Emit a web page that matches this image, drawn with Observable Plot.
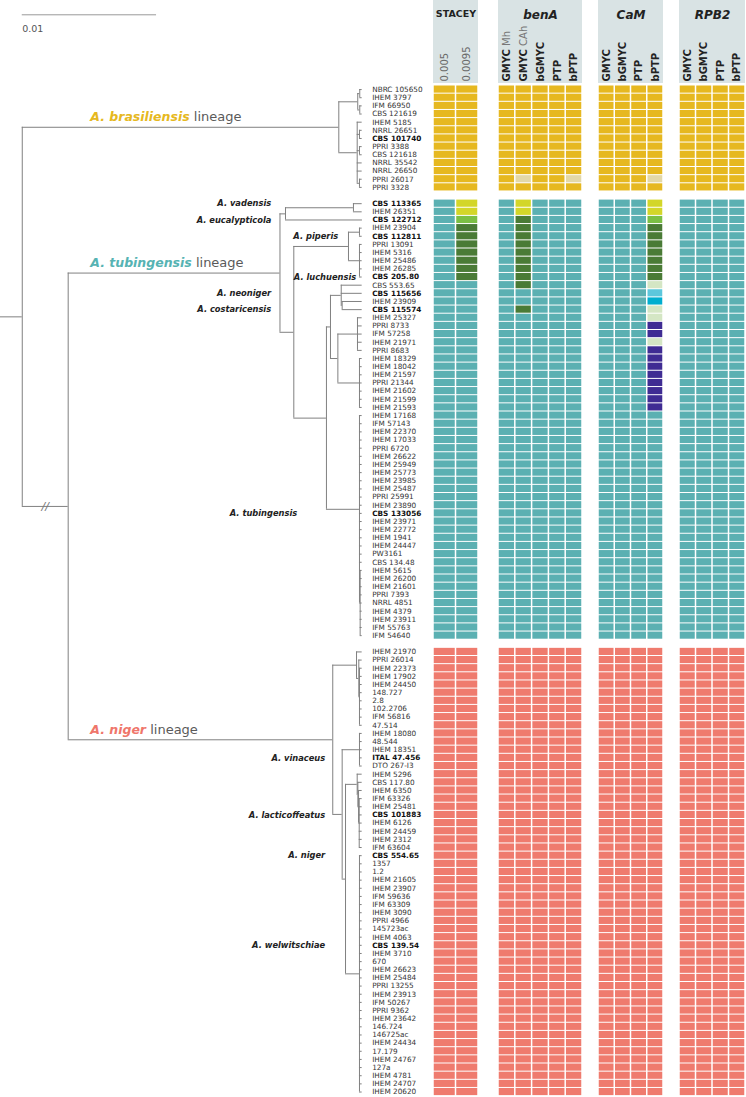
<!DOCTYPE html>
<html><head><meta charset="utf-8">
<script src="https://cdn.jsdelivr.net/npm/d3@7"></script>
<script src="https://cdn.jsdelivr.net/npm/@observablehq/plot@0.6"></script>
<style>
body{margin:0;background:#fff;}
#chart{position:relative;width:746px;height:1097px;overflow:hidden;font-family:"DejaVu Sans",sans-serif;}
.panel{position:absolute;top:0;}
.hdr{position:absolute;top:0;height:83px;background:#d9e3e4;}
</style></head><body><div id="chart"></div>
<script>
// ---------------- DATA ----------------
const brasiliensisStrains = ["NBRC 105650","IHEM 3797","IFM 66950","CBS 121619","IHEM 5185","NRRL 26651","CBS 101740","PPRI 3388","CBS 121618","NRRL 35542","NRRL 26650","PPRI 26017","PPRI 3328"];
const tubingensisStrains = ["CBS 113365","IHEM 26351","CBS 122712","IHEM 23904","CBS 112811","PPRI 13091","IHEM 5316","IHEM 25486","IHEM 26285","CBS 205.80","CBS 553.65","CBS 115656","IHEM 23909","CBS 115574","IHEM 25327","PPRI 8733","IFM 57258","IHEM 21971","PPRI 8683","IHEM 18329","IHEM 18042","IHEM 21597","PPRI 21344","IHEM 21602","IHEM 21599","IHEM 21593","IHEM 17168","IFM 57143","IHEM 22370","IHEM 17033","PPRI 6720","IHEM 26622","IHEM 25949","IHEM 25773","IHEM 23985","IHEM 25487","PPRI 25991","IHEM 23890","CBS 133056","IHEM 23971","IHEM 22772","IHEM 1941","IHEM 24447","PW3161","CBS 134.48","IHEM 5615","IHEM 26200","IHEM 21601","PPRI 7393","NRRL 4851","IHEM 4379","IHEM 23911","IFM 55763","IFM 54640"];
const nigerStrains = ["IHEM 21970","PPRI 26014","IHEM 22373","IHEM 17902","IHEM 24450","148.727","2.8","102.2706","IFM 56816","47.514","IHEM 18080","48.544","IHEM 18351","ITAL 47.456","DTO 267-I3","IHEM 5296","CBS 117.80","IHEM 6350","IFM 63326","IHEM 25481","CBS 101883","IHEM 6126","IHEM 24459","IHEM 2312","IFM 63604","CBS 554.65","1357","1.2","IHEM 21605","IHEM 23907","IFM 59636","IFM 63309","IHEM 3090","PPRI 4966","145723ac","IHEM 4063","CBS 139.54","IHEM 3710","670","IHEM 26623","IHEM 25484","PPRI 13255","IHEM 23913","IFM 50267","PPRI 9362","IHEM 23642","146.724","146725ac","IHEM 24434","17.179","IHEM 24767","127a","IHEM 4781","IHEM 24707","IHEM 20620"];
const typeStrains = ["CBS 101740","CBS 113365","CBS 122712","CBS 112811","CBS 205.80","CBS 115656","CBS 115574","CBS 133056","ITAL 47.456","CBS 101883","CBS 554.65","CBS 139.54"];

const lineageNames = ["A. brasiliensis","A. tubingensis","A. niger"];
const lineageClusters = ["brasiliensis","tubingensis","niger"];
const lineageColors = ["#e6b820","#56b3b3","#ef766b"];

const cladeLabelNames = ["A. vadensis","A. eucalypticola","A. piperis","A. luchuensis","A. neoniger","A. costaricensis","A. tubingensis","A. vinaceus","A. lacticoffeatus","A. niger","A. welwitschiae"];
const cladeLabelStrains = ["CBS 113365","CBS 122712","CBS 112811","CBS 205.80","CBS 115656","CBS 115574","CBS 133056","ITAL 47.456","CBS 101883","CBS 554.65","CBS 139.54"];

// Phylogeny (Newick, branch lengths in units of 1e-4 substitutions/site; leaves in row order)
const lengthUnit = 1e-4;
const brasiliensisNewick = "(((:1.8,:1.8):1.5,(:1.8,:1.8):1.5):14.1,(:3.7,(:2,:2):1.7,(:2,:2):1.7,:3.7,:3.7,(:2,:2):1.7):13.7):235.7";
const tubingensisNewick = "(((:6.5,:6.5):50.6,:57.3):4.1,(((:2,:2):8.2,(:2,:2,:2,:2,:2):8.2):40.7,"
  + "(((:15.6,:15.6,(:14.9,:14.9):0.7):8,((:3.5,:3.5,:3.5,:3.5,:3.5):14.6,(:2,:2,:2,:2,:2,:2,:2):16.1):5.5):3,"
  + "(:2,:2,:2,:2,:2,:2,:2,:2,:2,:2,:2,:2,:2,:2,:2,:2,:2,:2,:2,(:1.5,:1.5,:1.5,:1.5,:1.5,:1.5,:1.5,:1.5,:1.5):0.5):24.6):24.3):10.3):157.7";
const nigerNewick = "((:4.2,(:2.5,(:2,:2,:2,:2,:2,:2,:2,:2):0.5):1.7):17.7,((:2,:2,:2,:2,:2):12.9,"
  + "((:3.7,(:3.2,(:2.7,(:2.2,:2.2,:2.2,:2.2,:2.2,:2.2,:2.2):0.5):0.5):0.5):8.7,"
  + "(:2,:2,:2,:2,:2,:2,:2,:2,:2,:2,:2,:2,:2,:2,:2,:2,:2,:2,:2,:2,:2,:2,:2,:2,:2,:2,:2,:2,:2,:2):10.4):2.5):7):197";
const lineageSplitLength = 34.2;
const rootStemLength = 16.2;
const scaleBarLength = 0.01;

// Species delimitation panels
const groupTitles = ["STACEY","benA","CaM","RPB2"];
const staceyColumns = ["0.005","0.0095"];
const benAColumns = ["GMYC Mh","GMYC CAh","bGMYC","PTP","bPTP"];
const camColumns = ["GMYC","bGMYC","PTP","bPTP"];
const rpb2Columns = ["GMYC","bGMYC","PTP","bPTP"];

const clusterNames = ["brasiliensis","brasiliensis-2","tubingensis","vadensis","eucalypticola","piperis","tubingensis-2","tubingensis-3","tubingensis-4","tubingensis-5","niger"];
const clusterColors = ["#e6b820","#e3d8a8","#5bb0b2","#d3d629","#7bbf44","#4a7b36","#d4e6c4","#5cc7dc","#00aecf","#3f2c93","#ef7b6e"];

const stacey0095Clusters = [["CBS 113365","vadensis"],["IHEM 26351","vadensis"],["CBS 122712","eucalypticola"],["IHEM 23904","piperis"],["CBS 112811","piperis"],["PPRI 13091","piperis"],["IHEM 5316","piperis"],["IHEM 25486","piperis"],["IHEM 26285","piperis"],["CBS 205.80","piperis"]];
const benAGmycCAhClusters = [["PPRI 26017","brasiliensis-2"],["CBS 113365","vadensis"],["IHEM 26351","vadensis"],["CBS 122712","piperis"],["IHEM 23904","piperis"],["CBS 112811","piperis"],["PPRI 13091","piperis"],["IHEM 5316","piperis"],["IHEM 25486","piperis"],["IHEM 26285","piperis"],["CBS 205.80","piperis"],["CBS 553.65","piperis"],["CBS 115574","piperis"]];
const benABptpClusters = [["PPRI 26017","brasiliensis-2"]];
const camBptpClusters = [["PPRI 26017","brasiliensis-2"],["CBS 113365","vadensis"],["IHEM 26351","vadensis"],["CBS 122712","eucalypticola"],["IHEM 23904","piperis"],["CBS 112811","piperis"],["PPRI 13091","piperis"],["IHEM 5316","piperis"],["IHEM 25486","piperis"],["IHEM 26285","piperis"],["CBS 205.80","piperis"],["CBS 553.65","tubingensis-2"],["CBS 115656","tubingensis-3"],["IHEM 23909","tubingensis-4"],["CBS 115574","tubingensis-2"],["IHEM 25327","tubingensis-2"],["PPRI 8733","tubingensis-5"],["IFM 57258","tubingensis-5"],["IHEM 21971","tubingensis-2"],["PPRI 8683","tubingensis-5"],["IHEM 18329","tubingensis-5"],["IHEM 18042","tubingensis-5"],["IHEM 21597","tubingensis-5"],["PPRI 21344","tubingensis-5"],["IHEM 21602","tubingensis-5"],["IHEM 21599","tubingensis-5"],["IHEM 21593","tubingensis-5"]];

// ---------------- LAYOUT / STYLE ----------------
const FONT = "DejaVu Sans, sans-serif";
const H = 1097, TOP = 85, ROW = 8.15;
const chart = document.getElementById("chart");
const NS = "http://www.w3.org/2000/svg";

const blocks = [brasiliensisStrains, tubingensisStrains, nigerStrains];
const rowKeys = [];
const lineageOfStrain = new Map();
blocks.forEach((strains, bi) => {
  if (bi) rowKeys.push("gap " + bi);
  strains.forEach(s => { rowKeys.push(s); lineageOfStrain.set(s, bi); });
});
const yEnd = TOP + rowKeys.length * ROW;

// ---------------- TREE ----------------
function parseNewick(s) {
  let i = 0;
  function node() {
    const n = {children: [], length: 0};
    if (s[i] === "(") {
      i++;
      n.children.push(node());
      while (s[i] === ",") { i++; n.children.push(node()); }
      i++;
    }
    if (s[i] === ":") {
      i++; const j = i;
      while (i < s.length && /[0-9.eE+-]/.test(s[i])) i++;
      n.length = +s.slice(j, i);
    }
    return n;
  }
  return node();
}
const treeNewick = `(${brasiliensisNewick},(${tubingensisNewick},${nigerNewick}):${lineageSplitLength}):${rootStemLength}`;
const root = d3.hierarchy(parseNewick(treeNewick), d => d.children.length ? d.children : null);
root.eachBefore(n => { n.x = (n.parent ? n.parent.x : 0) + n.data.length * lengthUnit; });
const allStrains = blocks.flat();
root.leaves().forEach((l, i) => { l.strain = allStrains[i]; l.y = rowKeys.indexOf(allStrains[i]) + 0.5; });
root.eachAfter(n => { if (n.children) n.y = (n.children[0].y + n.children[n.children.length - 1].y) / 2; });

const hSegs = root.descendants().map(n => ({x1: n.parent ? n.parent.x : 0, x2: n.x, y: n.y}));
const vSegs = root.descendants().filter(n => n.children).map(n => ({x: n.x, y1: n.children[0].y, y2: n.children[n.children.length - 1].y}));
const leafByStrain = new Map(root.leaves().map(l => [l.strain, l]));
const tips = root.leaves().map(l => ({x: l.x, y: l.y, strain: l.strain, type: typeStrains.includes(l.strain)}));

const lineageNodes = [root.children[0], root.children[1].children[0], root.children[1].children[1]];
const lineageLabels = lineageNames.map((name, i) => ({name, color: lineageColors[i], x: root.x, y: lineageNodes[i].y}));
const breakNode = root.children[1];
const breakMark = [{x: (root.x + breakNode.x) / 2, y: breakNode.y}];
const scaleBar = [{x1: root.x, x2: root.x + scaleBarLength, y: 0, label: String(scaleBarLength)}];

const cladeLabelDx = {"A. vadensis": -91, "A. eucalypticola": -91, "A. piperis": -24, "A. luchuensis": -6, "A. neoniger": -91, "A. costaricensis": -91, "A. tubingensis": -65, "A. vinaceus": -37, "A. lacticoffeatus": -37, "A. niger": -37, "A. welwitschiae": -37};
const cladeLabels = cladeLabelNames.map((name, i) => {
  const l = leafByStrain.get(cladeLabelStrains[i]);
  return {name, x: l.x, y: l.y, dx: cladeLabelDx[name]};
});
const cladeMarks = Array.from(d3.group(cladeLabels, d => d.dx), ([dx, arr]) =>
  Plot.text(arr, {x: "x", y: "y", text: "name", dx, textAnchor: "end", fontSize: 8.3, fontWeight: "bold", fontStyle: "italic", fill: "#222"}));

const LINE = "#808080";
const treePlot = Plot.plot({
  width: 432, height: H, marginLeft: 0, marginRight: 0, marginTop: 0, marginBottom: 0,
  style: {fontFamily: FONT, background: "transparent", overflow: "visible"},
  x: {domain: [0, 0.03], range: [0, 402.9], axis: null},
  y: {domain: [0, rowKeys.length], range: [TOP, yEnd], axis: null},
  marks: [
    Plot.ruleY(hSegs, {y: "y", x1: "x1", x2: "x2", stroke: LINE, strokeWidth: 1}),
    Plot.ruleX(vSegs, {x: "x", y1: "y1", y2: "y2", stroke: LINE, strokeWidth: 1}),
    Plot.text(breakMark, {x: "x", y: "y", text: () => "//", fontSize: 11, fill: "#777", fontStyle: "italic"}),
    Plot.ruleY(scaleBar, {y: "y", x1: "x1", x2: "x2", dy: -70.7, stroke: "#999", strokeWidth: 1}),
    Plot.text(scaleBar, {x: "x1", y: "y", text: "label", dy: -57, textAnchor: "start", fontSize: 9.5, fill: "#555"}),
    Plot.text(tips.filter(d => !d.type), {x: "x", y: "y", text: "strain", dx: 10, textAnchor: "start", fontSize: 7.3, fill: "#333"}),
    Plot.text(tips.filter(d => d.type), {x: "x", y: "y", text: "strain", dx: 10, textAnchor: "start", fontSize: 7.3, fontWeight: "bold", fill: "#111"}),
    Plot.text(lineageLabels, {x: "x", y: "y", text: d => d.name + " lineage", dx: 68, dy: -10, textAnchor: "start", fontSize: 12.5}),
    ...cladeMarks
  ]
});
treePlot.querySelectorAll("text").forEach(t => {
  const d = lineageLabels.find(l => t.textContent === l.name + " lineage");
  if (!d) return;
  t.textContent = "";
  const a = document.createElementNS(NS, "tspan");
  a.setAttribute("font-weight", "bold"); a.setAttribute("font-style", "italic"); a.setAttribute("fill", d.color);
  a.textContent = d.name;
  const b = document.createElementNS(NS, "tspan");
  b.setAttribute("font-weight", "normal"); b.setAttribute("fill", "#5a5a5a"); b.setAttribute("font-size", "13");
  b.textContent = " lineage";
  t.appendChild(a); t.appendChild(b);
});
treePlot.classList.add("panel");
treePlot.style.left = "0px";
chart.appendChild(treePlot);

// ---------------- HEATMAP PANELS ----------------
const groups = [
  {title: groupTitles[0], columns: staceyColumns, overrides: {"0.0095": stacey0095Clusters}, left: 433, width: 45, light: true},
  {title: groupTitles[1], columns: benAColumns, overrides: {"GMYC CAh": benAGmycCAhClusters, "bPTP": benABptpClusters}, left: 498, width: 84},
  {title: groupTitles[2], columns: camColumns, overrides: {"bPTP": camBptpClusters}, left: 598, width: 65},
  {title: groupTitles[3], columns: rpb2Columns, overrides: {}, left: 679, width: 66}
];

groups.forEach(g => {
  const cells = [];
  g.columns.forEach(col => {
    const ov = new Map(g.overrides[col] || []);
    allStrains.forEach(s => cells.push({column: col, strain: s, cluster: ov.get(s) || lineageClusters[lineageOfStrain.get(s)]}));
  });
  const hdr = document.createElement("div");
  hdr.className = "hdr";
  hdr.style.left = g.left + "px"; hdr.style.width = g.width + "px";
  chart.appendChild(hdr);
  const p = Plot.plot({
    width: g.width, height: H, marginLeft: 0, marginRight: 0, marginTop: TOP, marginBottom: H - yEnd,
    style: {fontFamily: FONT, fontSize: "10px", background: "transparent", overflow: "visible"},
    x: {domain: g.columns, padding: 0, round: false, axis: "top", tickSize: 0, tickPadding: 4, tickRotate: -90, label: null},
    y: {domain: rowKeys, padding: 0, round: false, axis: null},
    color: {domain: clusterNames, range: clusterColors},
    marks: [
      Plot.cell(cells, {x: "column", y: "strain", fill: "cluster", insetTop: 0.5, insetBottom: 0.5, insetLeft: 0.75, insetRight: 0.75}),
      Plot.text([g.title], {frameAnchor: "top", dy: -75, text: d => d, fontWeight: "bold", fontStyle: g.light ? "normal" : "italic", fontSize: g.light ? 9.5 : 12, fill: "#222"})
    ]
  });
  p.querySelectorAll('g[aria-label="x-axis tick label"] text').forEach(t => {
    const s = t.textContent;
    if (g.light) { t.setAttribute("font-weight", "normal"); t.setAttribute("fill", "#6a6a6a"); return; }
    t.textContent = "";
    const m = s.match(/^(GMYC) (.+)$/);
    const a = document.createElementNS(NS, "tspan");
    a.setAttribute("font-weight", "bold"); a.setAttribute("fill", "#222");
    a.textContent = m ? m[1] : s;
    t.appendChild(a);
    if (m) {
      const b = document.createElementNS(NS, "tspan");
      b.setAttribute("font-weight", "normal"); b.setAttribute("fill", "#777");
      b.textContent = " " + m[2];
      t.appendChild(b);
    }
  });
  p.classList.add("panel");
  p.style.left = g.left + "px";
  chart.appendChild(p);
});
</script></body></html>
